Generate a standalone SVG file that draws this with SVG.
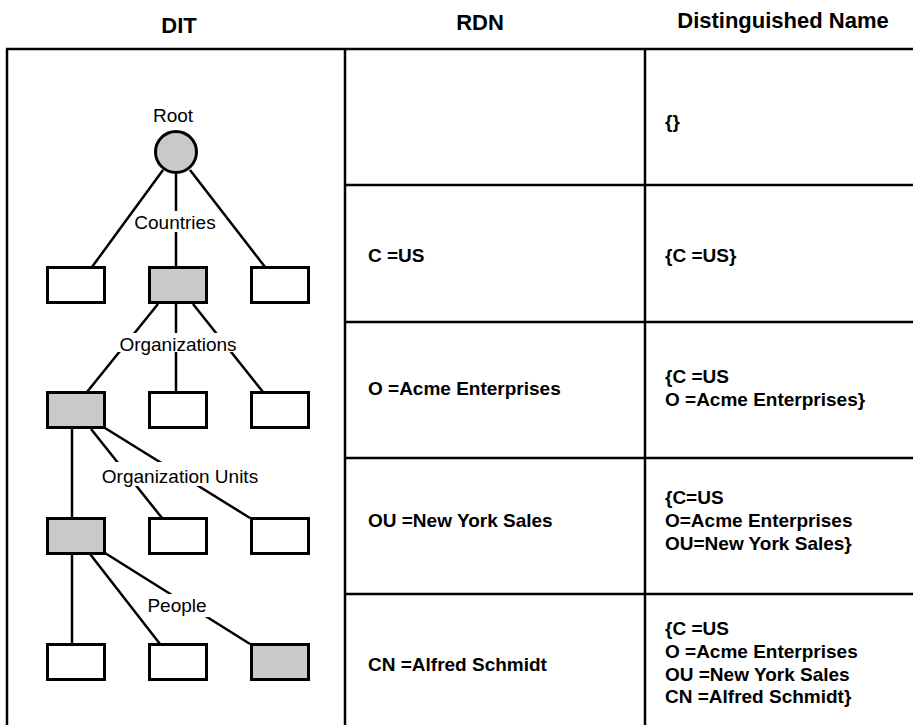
<svg xmlns="http://www.w3.org/2000/svg" width="913" height="725" viewBox="0 0 913 725">
  <style>
    .hdr { font-family: "Liberation Sans", Arial, sans-serif; font-weight: bold; font-size: 22px; fill: #000; }
    .cell { font-family: "Liberation Sans", Arial, sans-serif; font-weight: bold; font-size: 19px; fill: #000; }
    .lbl { font-family: "Liberation Sans", Arial, sans-serif; font-size: 19px; fill: #000; text-anchor: middle; }
    .grid { stroke: #000; stroke-width: 2.5; fill: none; }
    .edge { stroke: #000; stroke-width: 2.5; fill: none; }
    .box { stroke: #000; stroke-width: 3; fill: #fff; }
    .box.sel { fill: #c9c9c9; }
    .gap { fill: #fff; stroke: none; }
  </style>

  <rect width="913" height="725" fill="#fff"/>

  <!-- column headings -->
  <g id="headings">
    <text class="hdr" x="179" y="33" text-anchor="middle">DIT</text>
    <text class="hdr" x="480" y="30" text-anchor="middle">RDN</text>
    <text class="hdr" x="783" y="28" text-anchor="middle">Distinguished Name</text>
  </g>

  <!-- table rules -->
  <g id="table">
    <line class="grid" x1="6" y1="49" x2="913" y2="49" stroke-width="3"/>
    <line class="grid" x1="7" y1="49" x2="7" y2="725"/>
    <line class="grid" x1="345" y1="49" x2="345" y2="725"/>
    <line class="grid" x1="645" y1="49" x2="645" y2="725"/>
    <line class="grid" x1="345" y1="185" x2="913" y2="185"/>
    <line class="grid" x1="345" y1="322" x2="913" y2="322"/>
    <line class="grid" x1="345" y1="458" x2="913" y2="458"/>
    <line class="grid" x1="345" y1="594" x2="913" y2="594"/>
  </g>

  <!-- table cell text -->
  <g id="cells">
    <text class="cell" x="665" y="128">{}</text>

    <text class="cell" x="368" y="262">C =US</text>
    <text class="cell" x="665" y="262">{C =US}</text>

    <text class="cell" x="368" y="395">O =Acme Enterprises</text>
    <text class="cell" x="665" y="383">{C =US</text>
    <text class="cell" x="665" y="406">O =Acme Enterprises}</text>

    <text class="cell" x="368" y="527">OU =New York Sales</text>
    <text class="cell" x="665" y="504">{C=US</text>
    <text class="cell" x="665" y="527">O=Acme Enterprises</text>
    <text class="cell" x="665" y="550">OU=New York Sales}</text>

    <text class="cell" x="368" y="671">CN =Alfred Schmidt</text>
    <text class="cell" x="665" y="635">{C =US</text>
    <text class="cell" x="665" y="658">O =Acme Enterprises</text>
    <text class="cell" x="665" y="681">OU =New York Sales</text>
    <text class="cell" x="665" y="703">CN =Alfred Schmidt}</text>
  </g>

  <!-- tree connectors -->
  <g id="connectors">
    <line class="edge" x1="163" y1="170" x2="92" y2="267"/>
    <line class="edge" x1="176" y1="173" x2="176" y2="267"/>
    <line class="edge" x1="190" y1="170" x2="265" y2="267"/>

    <line class="edge" x1="158" y1="304" x2="87" y2="392"/>
    <line class="edge" x1="176" y1="304" x2="176" y2="392"/>
    <line class="edge" x1="193" y1="304" x2="263" y2="392"/>

    <line class="edge" x1="72" y1="429" x2="72" y2="518"/>
    <line class="edge" x1="91" y1="429" x2="162" y2="518"/>
    <line class="edge" x1="105" y1="428" x2="250" y2="518"/>

    <line class="edge" x1="72" y1="554" x2="72" y2="644"/>
    <line class="edge" x1="90" y1="554" x2="160" y2="644"/>
    <line class="edge" x1="105" y1="553" x2="250" y2="644"/>
  </g>

  <!-- tree nodes -->
  <g id="root">
    <circle class="box sel" cx="176" cy="152" r="20.5"/>
  </g>
  <g id="country-1"><rect class="box" x="47.5" y="267.5" width="57" height="35"/></g>
  <g id="country-2"><rect class="box sel" x="149.5" y="267.5" width="57" height="35"/></g>
  <g id="country-3"><rect class="box" x="251.5" y="267.5" width="57" height="35"/></g>

  <g id="org-1"><rect class="box sel" x="47.5" y="392.5" width="57" height="35"/></g>
  <g id="org-2"><rect class="box" x="149.5" y="392.5" width="57" height="35"/></g>
  <g id="org-3"><rect class="box" x="251.5" y="392.5" width="57" height="35"/></g>

  <g id="ou-1"><rect class="box sel" x="47.5" y="518.5" width="57" height="35"/></g>
  <g id="ou-2"><rect class="box" x="149.5" y="518.5" width="57" height="35"/></g>
  <g id="ou-3"><rect class="box" x="251.5" y="518.5" width="57" height="35"/></g>

  <g id="person-1"><rect class="box" x="47.5" y="644.5" width="57" height="35"/></g>
  <g id="person-2"><rect class="box" x="149.5" y="644.5" width="57" height="35"/></g>
  <g id="person-3"><rect class="box sel" x="251.5" y="644.5" width="57" height="35"/></g>

  <!-- level labels (white backing breaks the lines they sit on) -->
  <g id="labels">
    <text class="lbl" x="173" y="122">Root</text>

    <rect class="gap" x="135" y="211" width="82" height="21"/>
    <text class="lbl" x="175" y="229">Countries</text>

    <rect class="gap" x="116" y="333" width="124" height="19"/>
    <text class="lbl" x="178" y="351">Organizations</text>

    <rect class="gap" x="100" y="462" width="160" height="24"/>
    <text class="lbl" x="180" y="483">Organization Units</text>

    <rect class="gap" x="145" y="594" width="64" height="23"/>
    <text class="lbl" x="177" y="612">People</text>
  </g>
</svg>
